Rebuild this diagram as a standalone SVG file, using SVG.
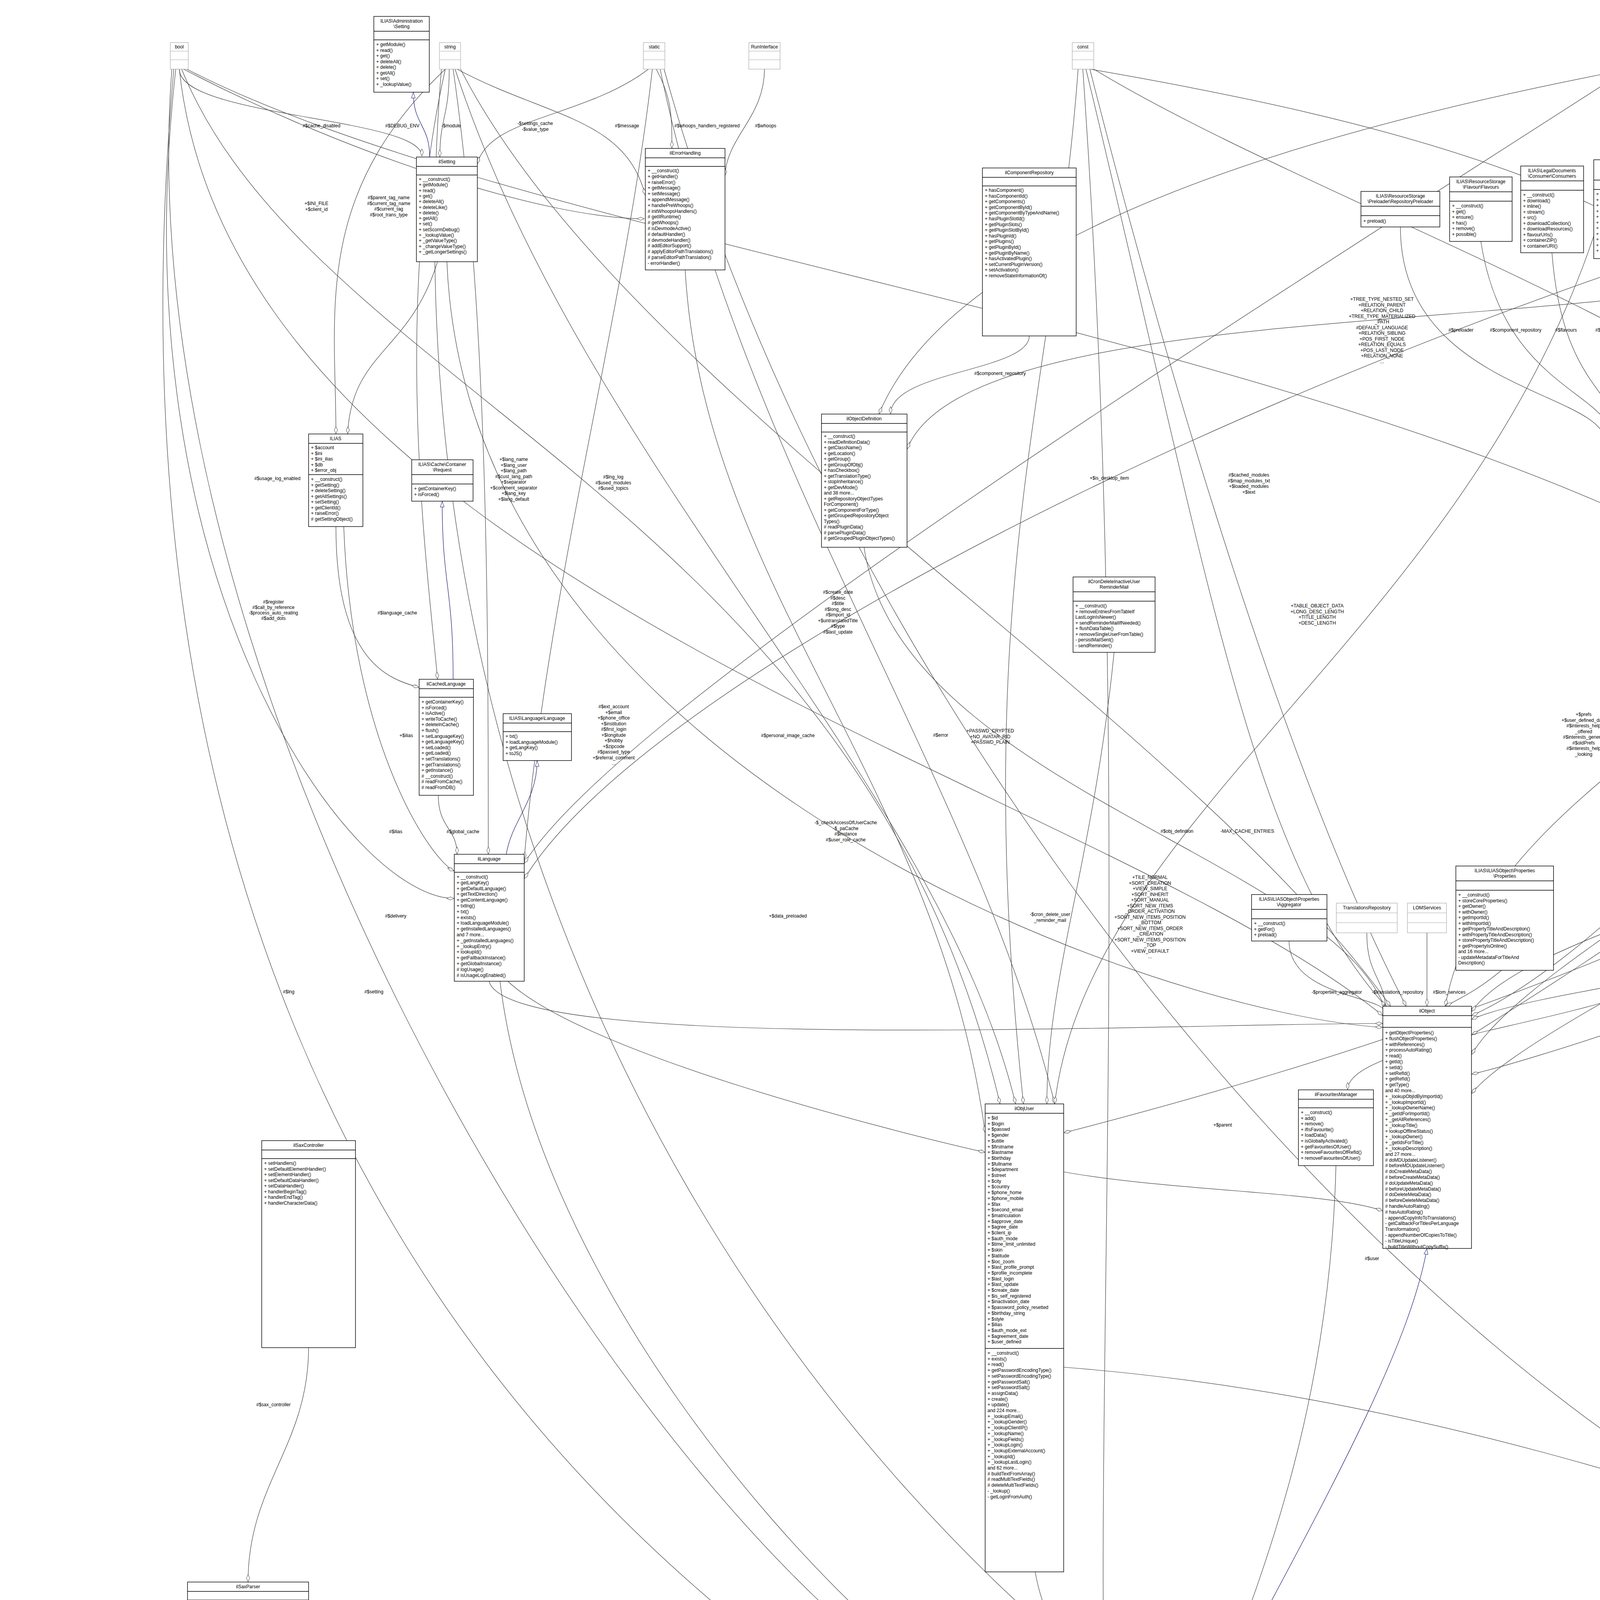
<svg xmlns="http://www.w3.org/2000/svg" width="7512" height="5460" viewBox="0 0 7512 5460">
<style>
.b{fill:#fff;stroke:#000;stroke-width:1.4}
.g{fill:#fff;stroke:#aaa;stroke-width:1.2}
.f{fill:#bfbfbf;stroke:#000;stroke-width:1.4}
.s{stroke:#000;stroke-width:1.4;fill:none}
.sg{stroke:#aaa;stroke-width:1.2;fill:none}
text{font-family:"Liberation Sans",Arial,sans-serif;font-size:12px;fill:#000}
.c{text-anchor:middle}
.l{text-anchor:middle}
.e{fill:none;stroke:#404040;stroke-width:1.2;marker-end:url(#d)}
.i{fill:none;stroke:#191970;stroke-width:1.2;marker-end:url(#tri)}
</style>
<defs>
<marker id="d" viewBox="0 0 20 10" refX="20" refY="5" markerWidth="20" markerHeight="10" markerUnits="userSpaceOnUse" orient="auto"><path d="M1 5L10 1L19 5L10 9Z" fill="#fff" stroke="#404040"/></marker>
<marker id="tri" viewBox="0 0 16 12" refX="16" refY="6" markerWidth="16" markerHeight="12" markerUnits="userSpaceOnUse" orient="auto"><path d="M1 1L15 6L1 11Z" fill="#fff" stroke="#191970"/></marker>
</defs>
<rect width="7512" height="5460" fill="#fff"/>

<g id="edges">
<path class="e" d="M459 177C459 300 1080 300 1080 400"/>
<path class="e" d="M470 177C900 400 1400 560 1650 560"/>
<path class="e" d="M450 177C300 1500 900 2300 1163 2300"/>
<path class="e" d="M459 177C600 1500 2800 2000 3540 2600"/>
<path class="e" d="M465 177C800 1000 2200 1300 2560 2826"/>
<path class="e" d="M440 177C300 2000 2000 4500 2811 4500"/>
<path class="e" d="M478 177C1500 700 4000 900 4928 1800"/>
<path class="e" d="M445 177C100 4000 3000 5330 5677 5322"/>
<path class="e" d="M1150 177C1150 300 1126 300 1126 402"/>
<path class="e" d="M1170 177C1400 300 1600 300 1652 500"/>
<path class="e" d="M1160 177C1250 800 1250 1600 1250 2187"/>
<path class="e" d="M1179 177C1600 1000 3000 1800 3560 2576"/>
<path class="e" d="M1165 177C1500 1200 2400 2000 2600 2826"/>
<path class="e" d="M1140 177C1000 800 1100 1500 1120 1739"/>
<path class="e" d="M1130 177C900 3000 3000 5315 5677 5312"/>
<path class="e" d="M1140 177C800 500 860 800 860 1111"/>
<path class="e" d="M1680 177C1720 250 1720 300 1720 380"/>
<path class="e" d="M1660 177C1500 300 1250 300 1222 420"/>
<path class="e" d="M1670 177C1600 800 1400 1500 1342 2200"/>
<path class="e" d="M1690 177C1900 1200 2500 2000 2700 2826"/>
<path class="e" d="M1700 177C2200 2000 4000 4200 5645 4280"/>
<path class="e" d="M1957 177C1957 300 1860 350 1856 450"/>
<path class="e" d="M2760 177C2700 1000 2480 1500 2620 2826"/>
<path class="e" d="M2790 177C3000 1000 3300 2000 3600 2576"/>
<path class="e" d="M2772 177C2900 2000 2800 3500 2830 4468"/>
<path class="e" d="M2800 177C3500 600 4900 1000 5100 1696"/>
<path class="e" d="M2780 177C3100 1500 3200 2200 3560 2590"/>
<path class="e" d="M2790 177C3500 300 4400 500 4650 1010"/>
<path class="e" d="M4180 177C4000 1500 2800 2000 2700 2826"/>
<path class="e" d="M4170 177C3000 400 2400 700 2250 1060"/>
<path class="e" d="M4200 177C4700 800 5000 1200 5000 1696"/>
<path class="e" d="M4210 177C5200 1500 5500 3500 5700 4165"/>
<path class="e" d="M4167 177C3200 800 1600 1800 1342 2210"/>
<path class="e" d="M4220 177C5000 250 5900 250 6080 380"/>
<path class="e" d="M4210 177C4300 300 4640 350 4640 469"/>
<path class="e" d="M6150 177C5900 700 5300 1200 5152 1750"/>
<path class="e" d="M6160 177C6000 1500 4000 2300 3767 2700"/>
<path class="e" d="M6175 177C6200 2000 3500 2700 2723 2900"/>
<path class="i" d="M1100 402C1100 320 1058 320 1058 236"/>
<path class="e" d="M1754 691C1800 1500 2400 2000 2522 2900"/>
<path class="e" d="M2635 860C2635 950 2280 950 2280 1060"/>
<path class="e" d="M2212 1401C2300 2000 3400 2200 3545 2580"/>
<path class="e" d="M2852 1670C2800 2200 2680 2500 2680 2826"/>
<path class="i" d="M1160 1739C1160 1500 1132 1500 1132 1283"/>
<path class="e" d="M1122 2036C1122 2120 1170 2120 1170 2187"/>
<path class="e" d="M880 1348C900 1900 1100 2200 1163 2230"/>
<path class="e" d="M860 1348C860 1700 1000 1739 1073 1760"/>
<path class="i" d="M1296 2187C1310 2100 1375 2050 1375 1947"/>
<path class="e" d="M1252 2512C1300 2700 3000 2620 3540 2620"/>
<path class="e" d="M1300 2512C1500 2700 2300 2900 2522 2950"/>
<path class="e" d="M1280 2512C1400 3500 2500 4520 2811 4520"/>
<path class="e" d="M1144 670C1200 2000 3000 2600 3540 2630"/>
<path class="e" d="M1120 670C1050 900 900 900 890 1111"/>
<path class="e" d="M7150 525C6500 1500 4000 2500 3767 2800"/>
<path class="e" d="M7100 300C6800 300 6300 300 6250 380"/>
<path class="e" d="M7300 525C7300 620 7290 620 7290 716"/>
<path class="e" d="M7200 525C7000 1500 4600 1800 4330 2261"/>
<path class="e" d="M7180 525C6500 1000 5500 1400 5152 1800"/>
<path class="e" d="M7160 400C6000 800 5000 900 4822 1050"/>
<path class="e" d="M7380 525C7400 3000 6500 5340 5839 5335"/>
<path class="e" d="M7250 525C7000 1500 6000 1700 5806 1800"/>
<path class="e" d="M7095 100C5000 100 1800 1500 1342 2250"/>
<path class="e" d="M5760 647C5700 1000 5200 1500 5130 1696"/>
<path class="e" d="M5770 647C5500 1600 4000 2500 3767 2650"/>
<path class="e" d="M5790 647C5790 1200 5760 1500 5760 1761"/>
<path class="e" d="M5830 647C6500 2500 6300 5300 5839 5325"/>
<path class="e" d="M5740 640C5400 900 5000 900 4950 1178"/>
<path class="e" d="M5272 604C5272 900 4930 900 4930 1178"/>
<path class="e" d="M3585 581C3585 1000 4110 1000 4110 1133"/>
<path class="e" d="M3791 618C3850 1000 4130 1000 4130 1133"/>
<path class="e" d="M3973 647C4000 1000 4150 1000 4150 1133"/>
<path class="e" d="M4171 662C4171 900 4175 1000 4175 1133"/>
<path class="e" d="M4582 604C4500 900 4210 1000 4210 1133"/>
<path class="e" d="M4773 581C4600 900 2500 700 2322 1150"/>
<path class="e" d="M5077 589C5000 900 4240 1000 4240 1133"/>
<path class="e" d="M5601 624C5400 950 4260 1000 4262 1150"/>
<path class="i" d="M5077 483C5100 400 5360 400 5360 326"/>
<path class="i" d="M5560 446C5540 380 5400 380 5400 326"/>
<path class="e" d="M6341 626C6300 900 6265 900 6265 1118"/>
<path class="e" d="M6552 574C6500 900 6310 900 6310 1118"/>
<path class="e" d="M6642 574C6600 900 6335 950 6335 1118"/>
<path class="e" d="M6789 603C6700 900 6345 950 6345 1118"/>
<path class="e" d="M6936 574C6900 900 6355 950 6355 1118"/>
<path class="e" d="M6318 1341C6200 2000 4000 2700 3767 2750"/>
<path class="e" d="M6164 692C6150 2000 6100 3500 5821 4200"/>
<path class="e" d="M4800 1451C5000 1700 5500 1700 5616 1780"/>
<path class="e" d="M4700 1451C4600 2000 4000 2500 3767 2600"/>
<path class="e" d="M4720 1451C4760 2500 4900 3300 4920 3531"/>
<path class="e" d="M4740 1451C4900 2500 5150 3800 5645 4230"/>
<path class="e" d="M5650 2013C5400 2400 4000 2500 3767 2610"/>
<path class="e" d="M4907 1283C4907 1500 4990 1500 4990 1696"/>
<path class="e" d="M4890 1283C4700 1700 3800 2000 3700 2576"/>
<path class="e" d="M5080 1341C5080 1500 5055 1500 5055 1696"/>
<path class="e" d="M4940 2000C4500 2300 3900 2400 3767 2590"/>
<path class="e" d="M4960 2080C4900 2150 4330 2150 4330 2261"/>
<path class="e" d="M5100 2080C5300 3000 5700 3500 5712 4165"/>
<path class="e" d="M5000 2080C5000 2800 4950 3300 4950 3531"/>
<path class="i" d="M5590 2848C5450 2700 5200 2600 5168 2475"/>
<path class="i" d="M5620 2848C5550 2700 5430 2600 5429 2432"/>
<path class="i" d="M5650 2848C5660 2700 5676 2600 5676 2460"/>
<path class="e" d="M5600 2923C5300 3100 5000 3300 4960 3531"/>
<path class="e" d="M4330 2440C4300 2600 3450 2650 3450 2790"/>
<path class="e" d="M7262 983C7000 2500 5100 3000 4985 3531"/>
<path class="e" d="M5667 3739C5680 3950 5720 3950 5720 4165"/>
<path class="e" d="M5821 4402C5900 4800 5900 5000 5860 5106"/>
<path class="e" d="M5760 4402C5900 4900 5900 5150 5839 5281"/>
<path class="e" d="M5758 5224L5758 5281"/>
<path class="i" d="M5646 5152C4500 5000 3400 4800 3026 4779"/>
<path class="i" d="M3026 4530C3300 4000 3600 3500 3653 3196"/>
<path class="i" d="M5677 5340C4000 5330 1500 5300 635 4220"/>
<path class="e" d="M3420 2984C3400 3800 3100 4300 3026 4600"/>
<path class="e" d="M4900 3753C4600 4200 3300 4400 3026 4630"/>
<path class="e" d="M2723 3000C3000 3050 3400 3050 3540 3100"/>
<path class="e" d="M2650 4024C2680 4200 2800 4300 2811 4560"/>
<path class="e" d="M2723 3500C4000 3600 5000 4100 5645 4260"/>
<path class="e" d="M3300 2409C3300 2550 3540 2550 3545 2590"/>
<path class="e" d="M3499 2388C3499 2500 3545 2500 3548 2590"/>
<path class="e" d="M3653 2388L3653 2576"/>
<path class="e" d="M3844 2484C3800 2520 3770 2540 3700 2576"/>
<path class="e" d="M790 3450C790 3700 635 3800 635 4050"/>
</g>

<g id="labels">
<text class="l" x="823" y="326">#$cache_disabled</text>
<text class="l" x="710" y="1229">#$usage_log_enabled</text>
<text class="l" x="700" y="1545"><tspan x="700">#$register</tspan><tspan x="700" dy="14">#$call_by_reference</tspan><tspan x="700" dy="14">-$process_auto_reating</tspan><tspan x="700" dy="14">#$add_dots</tspan></text>
<text class="l" x="2840" y="1228">+$is_desktop_item</text>
<text class="l" x="1155" y="326">-$module</text>
<text class="l" x="1030" y="326">#$DEBUG_ENV</text>
<text class="l" x="1605" y="326">#$message</text>
<text class="l" x="1315" y="1180"><tspan x="1315">+$lang_name</tspan><tspan x="1315" dy="14.5">+$lang_user</tspan><tspan x="1315" dy="14.5">+$lang_path</tspan><tspan x="1315" dy="14.5">#$cust_lang_path</tspan><tspan x="1315" dy="14.5">+$separator</tspan><tspan x="1315" dy="14.5">+$comment_separator</tspan><tspan x="1315" dy="14.5">+$lang_key</tspan><tspan x="1315" dy="14.5">+$lang_default</tspan></text>
<text class="l" x="2145" y="1520"><tspan x="2145">#$create_date</tspan><tspan x="2145" dy="14.5">#$desc</tspan><tspan x="2145" dy="14.5">#$title</tspan><tspan x="2145" dy="14.5">#$long_desc</tspan><tspan x="2145" dy="14.5">#$import_id</tspan><tspan x="2145" dy="14.5">+$untranslatedTitle</tspan><tspan x="2145" dy="14.5">#$type</tspan><tspan x="2145" dy="14.5">#$last_update</tspan></text>
<text class="l" x="1571" y="1813"><tspan x="1571">#$ext_account</tspan><tspan x="1571" dy="14.5">+$email</tspan><tspan x="1571" dy="14.5">+$phone_office</tspan><tspan x="1571" dy="14.5">+$institution</tspan><tspan x="1571" dy="14.5">#$first_login</tspan><tspan x="1571" dy="14.5">+$longitude</tspan><tspan x="1571" dy="14.5">+$hobby</tspan><tspan x="1571" dy="14.5">+$zipcode</tspan><tspan x="1571" dy="14.5">#$passwd_type</tspan><tspan x="1571" dy="14.5">+$referral_comment</tspan><tspan x="1571" dy="14.5">...</tspan></text>
<text class="l" x="995" y="510"><tspan x="995">#$parent_tag_name</tspan><tspan x="995" dy="14.5">#$current_tag_name</tspan><tspan x="995" dy="14.5">#$current_tag</tspan><tspan x="995" dy="14.5">#$root_trans_type</tspan></text>
<text class="l" x="810" y="525"><tspan x="810">+$INI_FILE</tspan><tspan x="810" dy="14.5">+$client_id</tspan></text>
<text class="l" x="1810" y="326">#$whoops_handlers_registered</text>
<text class="l" x="1370" y="320"><tspan x="1370">-$settings_cache</tspan><tspan x="1370" dy="14.5">-$value_type</tspan></text>
<text class="l" x="1570" y="1225"><tspan x="1570">#$lng_log</tspan><tspan x="1570" dy="14.5">#$used_modules</tspan><tspan x="1570" dy="14.5">#$used_topics</tspan></text>
<text class="l" x="2017" y="1887">#$personal_image_cache</text>
<text class="l" x="2165" y="2110"><tspan x="2165">-$_checkAccessOfUserCache</tspan><tspan x="2165" dy="14.5">-$_paCache</tspan><tspan x="2165" dy="14.5">#$instance</tspan><tspan x="2165" dy="14.5">#$user_role_cache</tspan></text>
<text class="l" x="1960" y="326">#$whoops</text>
<text class="l" x="2535" y="1875"><tspan x="2535">+PASSWD_CRYPTED</tspan><tspan x="2535" dy="14.5">+NO_AVATAR_RID</tspan><tspan x="2535" dy="14.5">+PASSWD_PLAIN</tspan></text>
<text class="l" x="3372" y="1555"><tspan x="3372">+TABLE_OBJECT_DATA</tspan><tspan x="3372" dy="14.5">+LONG_DESC_LENGTH</tspan><tspan x="3372" dy="14.5">+TITLE_LENGTH</tspan><tspan x="3372" dy="14.5">+DESC_LENGTH</tspan></text>
<text class="l" x="2944" y="2250"><tspan x="2944">+TILE_NORMAL</tspan><tspan x="2944" dy="14.5">+SORT_CREATION</tspan><tspan x="2944" dy="14.5">+VIEW_SIMPLE</tspan><tspan x="2944" dy="14.5">+SORT_INHERIT</tspan><tspan x="2944" dy="14.5">+SORT_MANUAL</tspan><tspan x="2944" dy="14.5">+SORT_NEW_ITEMS</tspan><tspan x="2944" dy="14.5">_ORDER_ACTIVATION</tspan><tspan x="2944" dy="14.5">+SORT_NEW_ITEMS_POSITION</tspan><tspan x="2944" dy="14.5">_BOTTOM</tspan><tspan x="2944" dy="14.5">+SORT_NEW_ITEMS_ORDER</tspan><tspan x="2944" dy="14.5">_CREATION</tspan><tspan x="2944" dy="14.5">+SORT_NEW_ITEMS_POSITION</tspan><tspan x="2944" dy="14.5">_TOP</tspan><tspan x="2944" dy="14.5">+VIEW_DEFAULT</tspan><tspan x="2944" dy="14.5">...</tspan></text>
<text class="l" x="3538" y="770"><tspan x="3538">+TREE_TYPE_NESTED_SET</tspan><tspan x="3538" dy="14.5">+RELATION_PARENT</tspan><tspan x="3538" dy="14.5">+RELATION_CHILD</tspan><tspan x="3538" dy="14.5">+TREE_TYPE_MATERIALIZED</tspan><tspan x="3538" dy="14.5">_PATH</tspan><tspan x="3538" dy="14.5">#DEFAULT_LANGUAGE</tspan><tspan x="3538" dy="14.5">+RELATION_SIBLING</tspan><tspan x="3538" dy="14.5">+POS_FIRST_NODE</tspan><tspan x="3538" dy="14.5">+RELATION_EQUALS</tspan><tspan x="3538" dy="14.5">+POS_LAST_NODE</tspan><tspan x="3538" dy="14.5">+RELATION_NONE</tspan><tspan x="3538" dy="14.5">...</tspan></text>
<text class="l" x="3193" y="2132">-MAX_CACHE_ENTRIES</text>
<text class="l" x="4390" y="500"><tspan x="4390">+FILTER_NOT_INTERNAL</tspan><tspan x="4390" dy="14.5">+FILTER_ALL_GLOBAL</tspan><tspan x="4390" dy="14.5">+FILTER_ALL</tspan><tspan x="4390" dy="14.5">+FILTER_INTERNAL</tspan><tspan x="4390" dy="14.5">+FILTER_TEMPLATES</tspan><tspan x="4390" dy="14.5">+FILTER_ALL_LOCAL</tspan></text>
<text class="l" x="4054" y="1833"><tspan x="4054">+$prefs</tspan><tspan x="4054" dy="14.5">+$user_defined_data</tspan><tspan x="4054" dy="14.5">#$interests_help</tspan><tspan x="4054" dy="14.5">_offered</tspan><tspan x="4054" dy="14.5">#$interests_general</tspan><tspan x="4054" dy="14.5">#$oldPrefs</tspan><tspan x="4054" dy="14.5">#$interests_help</tspan><tspan x="4054" dy="14.5">_looking</tspan></text>
<text class="l" x="5287" y="798"><tspan x="5287">#$oo_preloaded</tspan><tspan x="5287" dy="14.5">#$translation_cache</tspan><tspan x="5287" dy="14.5">#$is_saved_cache</tspan><tspan x="5287" dy="14.5">#$in_tree_cache</tspan><tspan x="5287" dy="14.5">-$path_id_cache</tspan><tspan x="5287" dy="14.5">#$parent_cache</tspan><tspan x="5287" dy="14.5">#$parent_type_cache</tspan><tspan x="5287" dy="14.5">#$depth_cache</tspan></text>
<text class="l" x="3197" y="1220"><tspan x="3197">#$cached_modules</tspan><tspan x="3197" dy="14.5">#$map_modules_txt</tspan><tspan x="3197" dy="14.5">+$loaded_modules</tspan><tspan x="3197" dy="14.5">+$text</tspan></text>
<text class="l" x="4939" y="536">#$listener</text>
<text class="l" x="5879" y="835"><tspan x="5879">#$tree_id</tspan><tspan x="5879" dy="14.5">-$gap</tspan><tspan x="5879" dy="14.5">#$root_id</tspan></text>
<text class="l" x="5938" y="1548"><tspan x="5938">#$ref_id</tspan><tspan x="5938" dy="14.5">#$max_desc</tspan><tspan x="5938" dy="14.5">#$max_title</tspan><tspan x="5938" dy="14.5">#$owner</tspan></text>
<text class="l" x="6040" y="1850"><tspan x="6040">#$time_limit_owner</tspan><tspan x="6040" dy="14.5">+$active</tspan><tspan x="6040" dy="14.5">#$time_limit_from</tspan><tspan x="6040" dy="14.5">#$time_limit_until</tspan><tspan x="6040" dy="14.5">+$login_attempts</tspan><tspan x="6040" dy="14.5">+$last_password_change_ts</tspan></text>
<text class="l" x="2408" y="1886">#$error</text>
<text class="l" x="2560" y="960">#$component_repository</text>
<text class="l" x="3013" y="2132">#$obj_definition</text>
<text class="l" x="2688" y="2345"><tspan x="2688">-$cron_delete_user</tspan><tspan x="2688" dy="14.5">_reminder_mail</tspan></text>
<text class="l" x="1185" y="2133">#$global_cache</text>
<text class="l" x="1013" y="2133">#$ilias</text>
<text class="l" x="1040" y="1887">+$ilias</text>
<text class="l" x="1013" y="2349">#$delivery</text>
<text class="l" x="739" y="2543">#$lng</text>
<text class="l" x="957" y="2543">#$setting</text>
<text class="l" x="1017" y="1573">#$language_cache</text>
<text class="l" x="2017" y="2349">+$data_preloaded</text>
<text class="l" x="6624" y="1229">#$db</text>
<text class="l" x="6484" y="534">#$db</text>
<text class="l" x="6960" y="848">#$db</text>
<text class="l" x="7031" y="848">#$db</text>
<text class="l" x="5480" y="1228">#$logger</text>
<text class="l" x="5618" y="1571">#$log</text>
<text class="l" x="5785" y="1228">#$logger</text>
<text class="l" x="5570" y="1880"><tspan x="5570">#$obj_log</tspan><tspan x="5570" dy="14.5">#$log</tspan></text>
<text class="l" x="4980" y="849">#$log</text>
<text class="l" x="5130" y="849">-$event_handling_data</text>
<text class="l" x="3740" y="849">#$preloader</text>
<text class="l" x="3880" y="849">#$component_repository</text>
<text class="l" x="4009" y="849">#$flavours</text>
<text class="l" x="4120" y="849">#$consumers</text>
<text class="l" x="4222" y="849">#$collections</text>
<text class="l" x="4441" y="849">#$events</text>
<text class="l" x="4571" y="849">#$component_factory</text>
<text class="l" x="4702" y="849">#$manager</text>
<text class="l" x="4827" y="849">#$container_manager</text>
<text class="l" x="5440" y="849">#$logger</text>
<text class="l" x="6248" y="848">-$colorfactory</text>
<text class="l" x="6379" y="848">-$dimensionfactory</text>
<text class="l" x="6510" y="848">-$text_factory</text>
<text class="l" x="6645" y="848">-$description_factory</text>
<text class="l" x="6813" y="835"><tspan x="6813">-$html_metadata_factory</tspan><tspan x="6813" dy="14.5">-$open_graph_metadata</tspan><tspan x="6813" dy="14.5">_factory</tspan></text>
<text class="l" x="6115" y="2348">#$objectDataCache</text>
<text class="l" x="5455" y="1571">#$rbacreview</text>
<text class="l" x="4845" y="2348">#$rbacreview</text>
<text class="l" x="4787" y="2542">#$review</text>
<text class="l" x="5195" y="3639">#$rbacreview</text>
<text class="l" x="4735" y="2348">#$rbac_admin</text>
<text class="l" x="5008" y="1571">#$eventHandler</text>
<text class="l" x="4520" y="2133">#$app_event_handler</text>
<text class="l" x="5103" y="1571">-$tree_impl</text>
<text class="l" x="4555" y="2348">#$tree</text>
<text class="l" x="4404" y="2133">#$tree</text>
<text class="l" x="5826" y="2883">#$tree</text>
<text class="l" x="5838" y="2133">#$mem_view</text>
<text class="l" x="5128" y="3226">#$access</text>
<text class="l" x="5737" y="4092">#$http</text>
<text class="l" x="4745" y="4432">#$rbacsystem</text>
<text class="l" x="5922" y="5080">#$rbacsystem</text>
<text class="l" x="5800" y="5256">#$category</text>
<text class="l" x="3130" y="2884">+$parent</text>
<text class="l" x="3512" y="3226">#$user</text>
<text class="l" x="2734" y="4283">#$user</text>
<text class="l" x="3422" y="2544">-$properties_aggregator</text>
<text class="l" x="3578" y="2544">-$translations_repository</text>
<text class="l" x="3710" y="2544">#$lom_services</text>
<text class="l" x="3470" y="4150">#$fav_manager</text>
<text class="l" x="3900" y="4250"><tspan x="3900">#$recommended_content</tspan><tspan x="3900" dy="14.5">_manager</tspan></text>
<text class="l" x="700" y="3600">#$sax_controller</text>
</g>

<g id="bool"><rect class="g" x="436" y="109" width="46" height="68"/><text class="c" x="459" y="124">bool</text><path class="sg" d="M436 131h46M436 153h46"/></g>
<g id="string"><rect class="g" x="1125" y="109" width="54" height="68"/><text class="c" x="1152" y="124">string</text><path class="sg" d="M1125 131h54M1125 153h54"/></g>
<g id="static"><rect class="g" x="1647" y="109" width="55" height="68"/><text class="c" x="1675" y="124">static</text><path class="sg" d="M1647 131h55M1647 153h55"/></g>
<g id="RunInterface"><rect class="g" x="1917" y="109" width="80" height="68"/><text class="c" x="1957" y="124">RunInterface</text><path class="sg" d="M1917 131h80M1917 153h80"/></g>
<g id="const"><rect class="g" x="2745" y="109" width="55" height="68"/><text class="c" x="2772" y="124">const</text><path class="sg" d="M2745 131h55M2745 153h55"/></g>
<g id="array"><rect class="g" x="4167" y="109" width="55" height="68"/><text class="c" x="4194" y="124">array</text><path class="sg" d="M4167 131h55M4167 153h55"/></g>
<g id="int"><rect class="g" x="6146" y="109" width="45" height="68"/><text class="c" x="6168" y="124">int</text><path class="sg" d="M6146 131h45M6146 153h45"/></g>
<g id="Dimension"><rect class="g" x="6510" y="497" width="84" height="77"/><text class="c" x="6552" y="513">Dimension</text><path class="sg" d="M6510 522h84M6510 548h84"/></g>
<g id="Text"><rect class="g" x="6618" y="497" width="48" height="77"/><text class="c" x="6642" y="513">Text</text><path class="sg" d="M6618 522h48M6618 548h48"/></g>
<g id="Meta"><rect class="g" x="6911" y="497" width="50" height="77"/><text class="c" x="6936" y="513">Meta</text><path class="sg" d="M6911 522h50M6911 548h50"/></g>
<g id="TranslationsRepository"><rect class="g" x="3421" y="2312" width="156" height="76"/><text class="c" x="3499" y="2328">TranslationsRepository</text><path class="sg" d="M3421 2337h156M3421 2362h156"/></g>
<g id="LOMServices"><rect class="g" x="3603" y="2312" width="100" height="76"/><text class="c" x="3653" y="2328">LOMServices</text><path class="sg" d="M3603 2337h100M3603 2362h100"/></g>
<g id="ilAccessHandler"><rect class="b" x="5584" y="2848" width="117" height="75"/><text class="c" x="5642" y="2864">ilAccessHandler</text><path class="s" d="M5584 2872h117M5584 2896h117"/></g>

<g id="AdminSetting"><rect class="b" x="957" y="42" width="142" height="194"/><text class="c" x="1028" y="58">ILIAS\Administration</text><text class="c" x="1028" y="72">\Setting</text><path class="s" d="M957 80h142M957 102h142"/><text x="963" y="118"><tspan x="963">+ getModule()</tspan><tspan x="963" dy="14.5">+ read()</tspan><tspan x="963" dy="14.5">+ get()</tspan><tspan x="963" dy="14.5">+ deleteAll()</tspan><tspan x="963" dy="14.5">+ delete()</tspan><tspan x="963" dy="14.5">+ getAll()</tspan><tspan x="963" dy="14.5">+ set()</tspan><tspan x="963" dy="14.5">+ _lookupValue()</tspan></text></g>

<g id="ilSetting"><rect class="b" x="1066" y="402" width="156" height="268"/><text class="c" x="1144" y="418">ilSetting</text><path class="s" d="M1066 426h156M1066 448h156"/><text x="1072" y="463"><tspan x="1072">+ __construct()</tspan><tspan x="1072" dy="14.3">+ getModule()</tspan><tspan x="1072" dy="14.3">+ read()</tspan><tspan x="1072" dy="14.3">+ get()</tspan><tspan x="1072" dy="14.3">+ deleteAll()</tspan><tspan x="1072" dy="14.3">+ deleteLike()</tspan><tspan x="1072" dy="14.3">+ delete()</tspan><tspan x="1072" dy="14.3">+ getAll()</tspan><tspan x="1072" dy="14.3">+ set()</tspan><tspan x="1072" dy="14.3">+ setScormDebug()</tspan><tspan x="1072" dy="14.3">+ _lookupValue()</tspan><tspan x="1072" dy="14.3">+ _getValueType()</tspan><tspan x="1072" dy="14.3">+ _changeValueType()</tspan><tspan x="1072" dy="14.3">+ _getLongerSettings()</tspan></text></g>

<g id="ilErrorHandling"><rect class="b" x="1652" y="380" width="204" height="311"/><text class="c" x="1754" y="396">ilErrorHandling</text><path class="s" d="M1652 404h204M1652 426h204"/><text x="1658" y="441"><tspan x="1658">+ __construct()</tspan><tspan x="1658" dy="14.8">+ getHandler()</tspan><tspan x="1658" dy="14.8">+ raiseError()</tspan><tspan x="1658" dy="14.8">+ getMessage()</tspan><tspan x="1658" dy="14.8">+ setMessage()</tspan><tspan x="1658" dy="14.8">+ appendMessage()</tspan><tspan x="1658" dy="14.8">+ handlePreWhoops()</tspan><tspan x="1658" dy="14.8"># initWhoopsHandlers()</tspan><tspan x="1658" dy="14.8"># getIlRuntime()</tspan><tspan x="1658" dy="14.8"># getWhoops()</tspan><tspan x="1658" dy="14.8"># isDevmodeActive()</tspan><tspan x="1658" dy="14.8"># defaultHandler()</tspan><tspan x="1658" dy="14.8"># devmodeHandler()</tspan><tspan x="1658" dy="14.8"># addEditorSupport()</tspan><tspan x="1658" dy="14.8"># applyEditorPathTranslations()</tspan><tspan x="1658" dy="14.8"># parseEditorPathTranslation()</tspan><tspan x="1658" dy="14.8">- errorHandler()</tspan></text></g>

<g id="ilComponentRepository"><rect class="b" x="2515" y="430" width="240" height="430"/><text class="c" x="2635" y="446">ilComponentRepository</text><path class="s" d="M2515 454h240M2515 476h240"/><text x="2521" y="491"><tspan x="2521">+ hasComponent()</tspan><tspan x="2521" dy="14.6">+ hasComponentId()</tspan><tspan x="2521" dy="14.6">+ getComponents()</tspan><tspan x="2521" dy="14.6">+ getComponentById()</tspan><tspan x="2521" dy="14.6">+ getComponentByTypeAndName()</tspan><tspan x="2521" dy="14.6">+ hasPluginSlotId()</tspan><tspan x="2521" dy="14.6">+ getPluginSlots()</tspan><tspan x="2521" dy="14.6">+ getPluginSlotById()</tspan><tspan x="2521" dy="14.6">+ hasPluginId()</tspan><tspan x="2521" dy="14.6">+ getPlugins()</tspan><tspan x="2521" dy="14.6">+ getPluginById()</tspan><tspan x="2521" dy="14.6">+ getPluginByName()</tspan><tspan x="2521" dy="14.6">+ hasActivatedPlugin()</tspan><tspan x="2521" dy="14.6">+ setCurrentPluginVersion()</tspan><tspan x="2521" dy="14.6">+ setActivation()</tspan><tspan x="2521" dy="14.6">+ removeStateInformationOf()</tspan></text></g>

<g id="ilObjectDefinition"><rect class="b" x="2103" y="1060" width="219" height="341"/><text class="c" x="2212" y="1076">ilObjectDefinition</text><path class="s" d="M2103 1084h219M2103 1106h219"/><text x="2109" y="1121"><tspan x="2109">+ __construct()</tspan><tspan x="2109" dy="14.5">+ readDefinitionData()</tspan><tspan x="2109" dy="14.5">+ getClassName()</tspan><tspan x="2109" dy="14.5">+ getLocation()</tspan><tspan x="2109" dy="14.5">+ getGroup()</tspan><tspan x="2109" dy="14.5">+ getGroupOfObj()</tspan><tspan x="2109" dy="14.5">+ hasCheckbox()</tspan><tspan x="2109" dy="14.5">+ getTranslationType()</tspan><tspan x="2109" dy="14.5">+ stopInheritance()</tspan><tspan x="2109" dy="14.5">+ getDevMode()</tspan><tspan x="2109" dy="14.5">and 38 more...</tspan><tspan x="2109" dy="14.5">+ getRepositoryObjectTypes</tspan><tspan x="2109" dy="14.5">ForComponent()</tspan><tspan x="2109" dy="14.5">+ getComponentForType()</tspan><tspan x="2109" dy="14.5">+ getGroupedRepositoryObject</tspan><tspan x="2109" dy="14.5">Types()</tspan><tspan x="2109" dy="14.5"># readPluginData()</tspan><tspan x="2109" dy="14.5"># parsePluginData()</tspan><tspan x="2109" dy="14.5"># getGroupedPluginObjectTypes()</tspan></text></g>

<g id="RepositoryPreloader"><rect class="b" x="3484" y="490" width="202" height="91"/><text class="c" x="3585" y="506">ILIAS\ResourceStorage</text><text class="c" x="3585" y="520">\Preloader\RepositoryPreloader</text><path class="s" d="M3484 528h202M3484 552h202"/><text x="3490" y="570">+ preload()</text></g>

<g id="Flavours"><rect class="b" x="3711" y="453" width="160" height="165"/><text class="c" x="3791" y="469">ILIAS\ResourceStorage</text><text class="c" x="3791" y="483">\Flavour\Flavours</text><path class="s" d="M3711 491h160M3711 515h160"/><text x="3717" y="531"><tspan x="3717">+ __construct()</tspan><tspan x="3717" dy="14.5">+ get()</tspan><tspan x="3717" dy="14.5">+ ensure()</tspan><tspan x="3717" dy="14.5">+ has()</tspan><tspan x="3717" dy="14.5">+ remove()</tspan><tspan x="3717" dy="14.5">+ possible()</tspan></text></g>

<g id="Consumers"><rect class="b" x="3893" y="425" width="161" height="222"/><text class="c" x="3973" y="441">ILIAS\LegalDocuments</text><text class="c" x="3973" y="455">\Consumer\Consumers</text><path class="s" d="M3893 463h161M3893 487h161"/><text x="3899" y="503"><tspan x="3899">+ __construct()</tspan><tspan x="3899" dy="14.5">+ download()</tspan><tspan x="3899" dy="14.5">+ inline()</tspan><tspan x="3899" dy="14.5">+ stream()</tspan><tspan x="3899" dy="14.5">+ src()</tspan><tspan x="3899" dy="14.5">+ downloadCollection()</tspan><tspan x="3899" dy="14.5">+ downloadResources()</tspan><tspan x="3899" dy="14.5">+ flavourUrls()</tspan><tspan x="3899" dy="14.5">+ containerZIP()</tspan><tspan x="3899" dy="14.5">+ containerURI()</tspan></text></g>

<g id="Collections"><rect class="b" x="4080" y="409" width="182" height="253"/><text class="c" x="4171" y="425">ILIAS\Export\ImportHandler</text><text class="c" x="4171" y="439">\Parser\NodeInfo\Collection</text><text class="c" x="4171" y="453">\Collections</text><path class="s" d="M4080 461h182M4080 485h182"/><text x="4086" y="501"><tspan x="4086">+ __construct()</tspan><tspan x="4086" dy="14.5">+ id()</tspan><tspan x="4086" dy="14.5">+ exists()</tspan><tspan x="4086" dy="14.5">+ idOrNull()</tspan><tspan x="4086" dy="14.5">+ get()</tspan><tspan x="4086" dy="14.5">+ store()</tspan><tspan x="4086" dy="14.5">+ clone()</tspan><tspan x="4086" dy="14.5">+ remove()</tspan><tspan x="4086" dy="14.5">+ rangeAsArray()</tspan><tspan x="4086" dy="14.5">+ rangeAsGenerator()</tspan><tspan x="4086" dy="14.5">+ sort()</tspan></text></g>

<g id="EventsSubject"><rect class="b" x="4503" y="469" width="159" height="135"/><text class="c" x="4582" y="485">ILIAS\ResourceStorage</text><text class="c" x="4582" y="499">\Events\Subject</text><path class="s" d="M4503 507h159M4503 531h159"/><text x="4509" y="547"><tspan x="4509">+ __construct()</tspan><tspan x="4509" dy="14.5">+ attach()</tspan><tspan x="4509" dy="14.5">+ detach()</tspan><tspan x="4509" dy="14.5"># initObserverGroup()</tspan></text></g>

<g id="ilComponentFactory"><rect class="b" x="4686" y="490" width="175" height="91"/><text class="c" x="4773" y="506">ilComponentFactory</text><path class="s" d="M4686 514h175M4686 536h175"/><text x="4692" y="552"><tspan x="4692">+ getPlugin()</tspan><tspan x="4692" dy="14.5">+ getActivePluginsInSlot()</tspan></text></g>

<g id="RSManager"><rect class="b" x="4997" y="483" width="160" height="106"/><text class="c" x="5077" y="499">ILIAS\ResourceStorage</text><text class="c" x="5077" y="513">\Manager\Manager</text><path class="s" d="M4997 521h160M4997 545h160"/><text x="5003" y="561"><tspan x="5003">+ upload()</tspan><tspan x="5003" dy="14.5">+ stream()</tspan></text></g>

<g id="ilArtifactEventHandlingData"><rect class="b" x="5181" y="469" width="182" height="135"/><text class="c" x="5272" y="485">ilArtifactEventHandlingData</text><path class="s" d="M5181 493h182M5181 515h182"/><text x="5187" y="531"><tspan x="5187">+ __construct()</tspan><tspan x="5187" dy="14.5">+ hasEvent()</tspan><tspan x="5187" dy="14.5">+ getEvent()</tspan><tspan x="5187" dy="14.5">+ getEventsByType()</tspan><tspan x="5187" dy="14.5"># readEventHandlingData()</tspan></text></g>

<g id="ContainerManager"><rect class="b" x="5490" y="446" width="222" height="178"/><text class="c" x="5601" y="462">ILIAS\ResourceStorage</text><text class="c" x="5601" y="476">\Manager\ContainerManager</text><path class="s" d="M5490 484h222M5490 508h222"/><text x="5496" y="524"><tspan x="5496">+ containerFromUpload()</tspan><tspan x="5496" dy="14.5">+ containerFromStream()</tspan><tspan x="5496" dy="14.5">+ createDirectoryInsideContainer()</tspan><tspan x="5496" dy="14.5">+ removePathInsideContainer()</tspan><tspan x="5496" dy="14.5">+ addUploadToContainer()</tspan><tspan x="5496" dy="14.5">+ addStreamToContainer()</tspan><tspan x="5496" dy="14.5"># normalizePath()</tspan></text></g>

<g id="ilLogger"><rect class="b" x="5735" y="424" width="111" height="223"/><text class="c" x="5790" y="440">ilLogger</text><path class="s" d="M5735 448h111M5735 470h111"/><text x="5741" y="486"><tspan x="5741">+ __construct()</tspan><tspan x="5741" dy="14.5">+ isHandling()</tspan><tspan x="5741" dy="14.5">+ log()</tspan><tspan x="5741" dy="14.5">+ dump()</tspan><tspan x="5741" dy="14.5">+ debug()</tspan><tspan x="5741" dy="14.5">+ info()</tspan><tspan x="5741" dy="14.5">+ notice()</tspan><tspan x="5741" dy="14.5">+ warning()</tspan><tspan x="5741" dy="14.5">+ error()</tspan><tspan x="5741" dy="14.5">+ critical()</tspan><tspan x="5741" dy="14.5">and 7 more...</tspan></text></g>

<g id="ReadOnlyManager"><rect class="b" x="5210" y="10" width="300" height="316"/><text class="c" x="5360" y="26">ILIAS\ResourceStorage</text><text class="c" x="5360" y="40">\Manager\ReadOnlyManager</text><path class="s" d="M5210 48h300M5210 72h300"/><text x="5216" y="88"><tspan x="5216">+ __construct()</tspan><tspan x="5216" dy="14.5">+ publish()</tspan><tspan x="5216" dy="14.5">+ unpublish()</tspan><tspan x="5216" dy="14.5">+ find()</tspan><tspan x="5216" dy="14.5">+ getResource()</tspan><tspan x="5216" dy="14.5">+ getCurrentRevision()</tspan><tspan x="5216" dy="14.5">+ getCurrentRevisionIncludingDraft()</tspan><tspan x="5216" dy="14.5">+ getRevision()</tspan><tspan x="5216" dy="14.5">+ setRevisionTitle()</tspan><tspan x="5216" dy="14.5">+ getStakeholders()</tspan><tspan x="5216" dy="14.5">+ clone()</tspan><tspan x="5216" dy="14.5">and 12 more...</tspan><tspan x="5216" dy="14.5"># checkZIP()</tspan><tspan x="5216" dy="14.5"># checkStakeholder()</tspan><tspan x="5216" dy="14.5"># checkRevision()</tspan></text></g>

<g id="ilObjectDataCache"><rect class="b" x="6073" y="380" width="183" height="312"/><text class="c" x="6164" y="396">ilObjectDataCache</text><path class="s" d="M6073 404h183M6073 426h183"/><text x="6079" y="442"><tspan x="6079">+ __construct()</tspan><tspan x="6079" dy="14.6">+ deleteCachedEntry()</tspan><tspan x="6079" dy="14.6">+ lookupObjId()</tspan><tspan x="6079" dy="14.6">+ lookupTitle()</tspan><tspan x="6079" dy="14.6">+ lookupType()</tspan><tspan x="6079" dy="14.6">+ lookupOwner()</tspan><tspan x="6079" dy="14.6">+ lookupDescription()</tspan><tspan x="6079" dy="14.6">+ lookupLastUpdate()</tspan><tspan x="6079" dy="14.6">+ lookupOfflineStatus()</tspan><tspan x="6079" dy="14.6">+ isTranslatedDescription()</tspan><tspan x="6079" dy="14.6">+ preloadObjectCache()</tspan><tspan x="6079" dy="14.6">+ preloadTranslations()</tspan><tspan x="6079" dy="14.6">+ preloadReferenceCache()</tspan><tspan x="6079" dy="14.6">- __isReferenceCached()</tspan><tspan x="6079" dy="14.6">- __isObjectCached()</tspan><tspan x="6079" dy="14.6">- __storeReference()</tspan><tspan x="6079" dy="14.6">- __storeObjectData()</tspan></text></g>

<g id="DataColor"><rect class="b" x="6280" y="446" width="122" height="180"/><text class="c" x="6341" y="462">ILIAS\Data\Color</text><path class="s" d="M6280 470h122M6280 494h122"/><text x="6286" y="510"><tspan x="6286">+ __construct()</tspan><tspan x="6286" dy="14.5">+ r()</tspan><tspan x="6286" dy="14.5">+ g()</tspan><tspan x="6286" dy="14.5">+ b()</tspan><tspan x="6286" dy="14.5">+ asArray()</tspan><tspan x="6286" dy="14.5">+ asHex()</tspan><tspan x="6286" dy="14.5">+ asRGBString()</tspan><tspan x="6286" dy="14.5">+ isDark()</tspan></text></g>

<g id="Description"><rect class="b" x="6690" y="468" width="198" height="135"/><text class="c" x="6789" y="484">ILIAS\Data\Description</text><text class="c" x="6789" y="498">\Description</text><path class="s" d="M6690 508h198M6690 532h198"/><text x="6696" y="548"><tspan x="6696">+ __construct()</tspan><tspan x="6696" dy="14.5">+ getDescription()</tspan><tspan x="6696" dy="14.5">+ getPrimitiveRepresentation()</tspan><tspan x="6696" dy="14.5">+ matches()</tspan></text></g>

<g id="ilDBInterface"><rect class="b" x="7090" y="5" width="310" height="520"/><text class="c" x="7245" y="21">ilDBInterface</text><path class="s" d="M7090 29h310M7090 51h310"/><text x="7096" y="67"><tspan x="7096">+ doesCollationSupportMB4Strings()</tspan><tspan x="7096" dy="14.6">+ sanitizeMB4StringIfNotSupported()</tspan><tspan x="7096" dy="14.6">+ getFieldDefinition()</tspan><tspan x="7096" dy="14.6">+ getDBVersion()</tspan><tspan x="7096" dy="14.6">+ createTable()</tspan><tspan x="7096" dy="14.6">+ addPrimaryKey()</tspan><tspan x="7096" dy="14.6">+ createSequence()</tspan><tspan x="7096" dy="14.6">+ getSequenceName()</tspan><tspan x="7096" dy="14.6">+ tableExists()</tspan><tspan x="7096" dy="14.6">+ tableColumnExists()</tspan><tspan x="7096" dy="14.6">and 104 more...</tspan><tspan x="7096" dy="14.6">+ getReservedWords()</tspan><tspan x="7096" dy="14.6">+ isReservedWord()</tspan></text></g>

<g id="ilRecommendedContentDBRepository"><rect class="b" x="7119" y="716" width="286" height="267"/><text class="c" x="7262" y="732">ilRecommendedContentDBRepository</text><path class="s" d="M7119 740h286M7119 762h286"/><text x="7125" y="778"><tspan x="7125">+ __construct()</tspan><tspan x="7125" dy="14.5">+ addRoleRecommendation()</tspan><tspan x="7125" dy="14.5">+ removeRoleRecommendation()</tspan><tspan x="7125" dy="14.5">+ addObjectRecommendation()</tspan><tspan x="7125" dy="14.5">+ removeObjectRecommendation()</tspan><tspan x="7125" dy="14.5">+ removeRecommendationsOfRefId()</tspan><tspan x="7125" dy="14.5">+ removeRecommendationsOfUser()</tspan><tspan x="7125" dy="14.5">+ removeRecommendationsOfRole()</tspan><tspan x="7125" dy="14.5">+ declineObjectRecommendation()</tspan><tspan x="7125" dy="14.5">+ getRecommendationsOfRoles()</tspan><tspan x="7125" dy="14.5">+ getOpenRecommendationsOfUser()</tspan><tspan x="7125" dy="14.5"># ifExistsObjectRecommendation()</tspan><tspan x="7125" dy="14.5"># getUserObjectRecommendations()</tspan><tspan x="7125" dy="14.5"># getDeclinedUserObjectRecommendations()</tspan></text></g>

<g id="DataFactory"><rect class="b" x="6251" y="1118" width="135" height="223"/><text class="c" x="6318" y="1134">ILIAS\Data\Factory</text><path class="s" d="M6251 1142h135M6251 1164h135"/><text x="6257" y="1180"><tspan x="6257">+ ok()</tspan><tspan x="6257" dy="14.5">+ error()</tspan><tspan x="6257" dy="14.5">+ color()</tspan><tspan x="6257" dy="14.5">+ uri()</tspan><tspan x="6257" dy="14.5">+ dataSize()</tspan><tspan x="6257" dy="14.5">+ password()</tspan><tspan x="6257" dy="14.5">+ clientId()</tspan><tspan x="6257" dy="14.5">+ refId()</tspan><tspan x="6257" dy="14.5">+ objId()</tspan><tspan x="6257" dy="14.5">+ alphanumeric()</tspan><tspan x="6257" dy="14.5">and 14 more...</tspan></text></g>

<g id="ILIAS"><rect class="b" x="790" y="1111" width="139" height="237"/><text class="c" x="859" y="1127">ILIAS</text><path class="s" d="M790 1135h139"/><text x="796" y="1150"><tspan x="796">+ $account</tspan><tspan x="796" dy="14.5">+ $ini</tspan><tspan x="796" dy="14.5">+ $ini_ilias</tspan><tspan x="796" dy="14.5">+ $db</tspan><tspan x="796" dy="14.5">+ $error_obj</tspan></text><path class="s" d="M790 1215h139"/><text x="796" y="1231"><tspan x="796">+ __construct()</tspan><tspan x="796" dy="14.5">+ getSetting()</tspan><tspan x="796" dy="14.5">+ deleteSetting()</tspan><tspan x="796" dy="14.5">+ getAllSettings()</tspan><tspan x="796" dy="14.5">+ setSetting()</tspan><tspan x="796" dy="14.5">+ getClientId()</tspan><tspan x="796" dy="14.5">+ raiseError()</tspan><tspan x="796" dy="14.5"># getSettingObject()</tspan></text></g>

<g id="CacheRequest"><rect class="b" x="1054" y="1177" width="157" height="106"/><text class="c" x="1132" y="1193">ILIAS\Cache\Container</text><text class="c" x="1132" y="1207">\Request</text><path class="s" d="M1054 1215h157M1054 1239h157"/><text x="1060" y="1255"><tspan x="1060">+ getContainerKey()</tspan><tspan x="1060" dy="14.5">+ isForced()</tspan></text></g>

<g id="ilCachedLanguage"><rect class="b" x="1073" y="1739" width="139" height="297"/><text class="c" x="1142" y="1755">ilCachedLanguage</text><path class="s" d="M1073 1763h139M1073 1785h139"/><text x="1079" y="1801"><tspan x="1079">+ getContainerKey()</tspan><tspan x="1079" dy="14.6">+ isForced()</tspan><tspan x="1079" dy="14.6">+ isActive()</tspan><tspan x="1079" dy="14.6">+ writeToCache()</tspan><tspan x="1079" dy="14.6">+ deleteInCache()</tspan><tspan x="1079" dy="14.6">+ flush()</tspan><tspan x="1079" dy="14.6">+ setLanguageKey()</tspan><tspan x="1079" dy="14.6">+ getLanguageKey()</tspan><tspan x="1079" dy="14.6">+ setLoaded()</tspan><tspan x="1079" dy="14.6">+ getLoaded()</tspan><tspan x="1079" dy="14.6">+ setTranslations()</tspan><tspan x="1079" dy="14.6">+ getTranslations()</tspan><tspan x="1079" dy="14.6">+ getInstance()</tspan><tspan x="1079" dy="14.6"># __construct()</tspan><tspan x="1079" dy="14.6"># readFromCache()</tspan><tspan x="1079" dy="14.6"># readFromDB()</tspan></text></g>

<g id="LanguageLanguage"><rect class="b" x="1288" y="1827" width="175" height="120"/><text class="c" x="1375" y="1843">ILIAS\Language\Language</text><path class="s" d="M1288 1851h175M1288 1873h175"/><text x="1294" y="1889"><tspan x="1294">+ txt()</tspan><tspan x="1294" dy="14.5">+ loadLanguageModule()</tspan><tspan x="1294" dy="14.5">+ getLangKey()</tspan><tspan x="1294" dy="14.5">+ toJS()</tspan></text></g>

<g id="ilLanguage"><rect class="b" x="1163" y="2187" width="179" height="325"/><text class="c" x="1252" y="2203">ilLanguage</text><path class="s" d="M1163 2211h179M1163 2233h179"/><text x="1169" y="2249"><tspan x="1169">+ __construct()</tspan><tspan x="1169" dy="14.8">+ getLangKey()</tspan><tspan x="1169" dy="14.8">+ getDefaultLanguage()</tspan><tspan x="1169" dy="14.8">+ getTextDirection()</tspan><tspan x="1169" dy="14.8">+ getContentLanguage()</tspan><tspan x="1169" dy="14.8">+ txtlng()</tspan><tspan x="1169" dy="14.8">+ txt()</tspan><tspan x="1169" dy="14.8">+ exists()</tspan><tspan x="1169" dy="14.8">+ loadLanguageModule()</tspan><tspan x="1169" dy="14.8">+ getInstalledLanguages()</tspan><tspan x="1169" dy="14.8">and 7 more...</tspan><tspan x="1169" dy="14.8">+ _getInstalledLanguages()</tspan><tspan x="1169" dy="14.8">+ _lookupEntry()</tspan><tspan x="1169" dy="14.8">+ lookupId()</tspan><tspan x="1169" dy="14.8">+ getFallbackInstance()</tspan><tspan x="1169" dy="14.8">+ getGlobalInstance()</tspan><tspan x="1169" dy="14.8"># logUsage()</tspan><tspan x="1169" dy="14.8"># isUsageLogEnabled()</tspan></text></g>

<g id="ilCronDeleteInactiveUserReminderMail"><rect class="b" x="2747" y="1477" width="210" height="193"/><text class="c" x="2852" y="1493">ilCronDeleteInactiveUser</text><text class="c" x="2852" y="1507">ReminderMail</text><path class="s" d="M2747 1515h210M2747 1539h210"/><text x="2753" y="1555"><tspan x="2753">+ __construct()</tspan><tspan x="2753" dy="14.5">+ removeEntriesFromTableIf</tspan><tspan x="2753" dy="14.5">LastLoginIsNewer()</tspan><tspan x="2753" dy="14.5">+ sendReminderMailIfNeeded()</tspan><tspan x="2753" dy="14.5">+ flushDataTable()</tspan><tspan x="2753" dy="14.5">+ removeSingleUserFromTable()</tspan><tspan x="2753" dy="14.5">- persistMailSent()</tspan><tspan x="2753" dy="14.5">- sendReminder()</tspan></text></g>

<g id="RSServices"><rect class="b" x="4104" y="1133" width="160" height="195"/><text class="c" x="4184" y="1149">ILIAS\ResourceStorage</text><text class="c" x="4184" y="1163">\Services</text><path class="s" d="M4104 1171h160M4104 1195h160"/><text x="4110" y="1211"><tspan x="4110">+ __construct()</tspan><tspan x="4110" dy="14.5">+ manage()</tspan><tspan x="4110" dy="14.5">+ manageContainer()</tspan><tspan x="4110" dy="14.5">+ consume()</tspan><tspan x="4110" dy="14.5">+ collection()</tspan><tspan x="4110" dy="14.5">+ flavours()</tspan><tspan x="4110" dy="14.5">+ preload()</tspan><tspan x="4110" dy="14.5">+ events()</tspan></text></g>

<g id="ilRbacReview"><rect class="b" x="4602" y="1010" width="220" height="441"/><text class="c" x="4712" y="1026">ilRbacReview</text><path class="s" d="M4602 1034h220M4602 1056h220"/><text x="4608" y="1072"><tspan x="4608">+ __construct()</tspan><tspan x="4608" dy="14.7">+ roleExists()</tspan><tspan x="4608" dy="14.7">+ getParentRoleIds()</tspan><tspan x="4608" dy="14.7">+ getRoleListByObject()</tspan><tspan x="4608" dy="14.7">+ getAssignableRoles()</tspan><tspan x="4608" dy="14.7">+ getAssignableRolesInSubtree()</tspan><tspan x="4608" dy="14.7">+ getAssignableChildRoles()</tspan><tspan x="4608" dy="14.7">+ getNumberOfAssignedUsers()</tspan><tspan x="4608" dy="14.7">+ assignedUsers()</tspan><tspan x="4608" dy="14.7">+ isAssigned()</tspan><tspan x="4608" dy="14.7">and 43 more...</tspan><tspan x="4608" dy="14.7">+ _getOperationIdsByName()</tspan><tspan x="4608" dy="14.7">+ _getOperationIdByName()</tspan><tspan x="4608" dy="14.7">+ lookupCreateOperationIds()</tspan><tspan x="4608" dy="14.7">+ _getOperationList()</tspan><tspan x="4608" dy="14.7">+ _groupOperationsByClass()</tspan><tspan x="4608" dy="14.7">+ _getCustomRBACOperationId()</tspan><tspan x="4608" dy="14.7">+ _isRBACOperation()</tspan><tspan x="4608" dy="14.7"># __getParentRoles()</tspan><tspan x="4608" dy="14.7"># __setTemplateFilter()</tspan><tspan x="4608" dy="14.7"># __setRoleType()</tspan><tspan x="4608" dy="14.7"># __setProtectedStatus()</tspan><tspan x="4608" dy="14.7">- getAssignableRolesGenerator()</tspan><tspan x="4608" dy="14.7">- setRoleTypeAndProtection()</tspan><tspan x="4608" dy="14.7">- buildRoleType()</tspan><tspan x="4608" dy="14.7">- buildProtectionByStringValue()</tspan></text></g>

<g id="ilAppEventHandler"><rect class="b" x="4842" y="1178" width="130" height="105"/><text class="c" x="4907" y="1194">ilAppEventHandler</text><path class="s" d="M4842 1202h130M4842 1224h130"/><text x="4848" y="1240"><tspan x="4848">+ __construct()</tspan><tspan x="4848" dy="14.5">+ raise()</tspan><tspan x="4848" dy="14.5"># initListeners()</tspan></text></g>

<g id="ilTreeImplementation"><rect class="b" x="5000" y="1118" width="180" height="223"/><text class="c" x="5090" y="1134">ilTreeImplementation</text><path class="s" d="M5000 1142h180M5000 1164h180"/><text x="5006" y="1180"><tspan x="5006">+ getSubTreeIds()</tspan><tspan x="5006" dy="14.6">+ getSubTreeQuery()</tspan><tspan x="5006" dy="14.6">+ getTrashSubTreeQuery()</tspan><tspan x="5006" dy="14.6">+ getRelation()</tspan><tspan x="5006" dy="14.6">+ getPathIds()</tspan><tspan x="5006" dy="14.6">+ insertNode()</tspan><tspan x="5006" dy="14.6">+ deleteTree()</tspan><tspan x="5006" dy="14.6">+ moveToTrash()</tspan><tspan x="5006" dy="14.6">+ moveTree()</tspan><tspan x="5006" dy="14.6">+ getSubtreeInfo()</tspan><tspan x="5006" dy="14.6">+ validateParentRelations()</tspan></text></g>

<g id="ilTree"><rect class="b" x="4928" y="1696" width="224" height="384"/><text class="c" x="5040" y="1712">ilTree</text><path class="s" d="M4928 1720h224"/><text x="4934" y="1736"># DEFAULT_GAP</text><path class="s" d="M4928 1743h224"/><text x="4934" y="1759"><tspan x="4934">+ __construct()</tspan><tspan x="4934" dy="14.6">+ initTreeImplementation()</tspan><tspan x="4934" dy="14.6">+ getTreeImplementation()</tspan><tspan x="4934" dy="14.6">+ useCache()</tspan><tspan x="4934" dy="14.6">+ getDepthCache()</tspan><tspan x="4934" dy="14.6">+ getParentCache()</tspan><tspan x="4934" dy="14.6">+ initLangCode()</tspan><tspan x="4934" dy="14.6">+ getTreeTable()</tspan><tspan x="4934" dy="14.6">+ getObjectDataTable()</tspan><tspan x="4934" dy="14.6">+ getTreePk()</tspan><tspan x="4934" dy="14.6">and 60 more...</tspan><tspan x="4934" dy="14.6">+ lookupTreesForNode()</tspan><tspan x="4934" dy="14.6">+ _removeEntry()</tspan><tspan x="4934" dy="14.6"># isCacheUsed()</tspan><tspan x="4934" dy="14.6"># resetInTreeCache()</tspan><tspan x="4934" dy="14.6"># fetchTranslationFromObject</tspan><tspan x="4934" dy="14.6">DataCache()</tspan><tspan x="4934" dy="14.6"># __renumber()</tspan><tspan x="4934" dy="14.6"># __checkDelete()</tspan><tspan x="4934" dy="14.6"># __getSubTreeByParentRelation()</tspan><tspan x="4934" dy="14.6"># __validateSubtrees()</tspan><tspan x="4934" dy="14.6"># isRepositoryTree()</tspan></text></g>

<g id="ilRbacAdmin"><rect class="b" x="5616" y="1761" width="190" height="252"/><text class="c" x="5711" y="1777">ilRbacAdmin</text><path class="s" d="M5616 1785h190M5616 1807h190"/><text x="5622" y="1823"><tspan x="5622">+ __construct()</tspan><tspan x="5622" dy="14.6">+ setBlockedStatus()</tspan><tspan x="5622" dy="14.6">+ removeUser()</tspan><tspan x="5622" dy="14.6">+ deleteRole()</tspan><tspan x="5622" dy="14.6">+ deleteTemplate()</tspan><tspan x="5622" dy="14.6">+ deleteLocalRole()</tspan><tspan x="5622" dy="14.6">+ assignUserLimited()</tspan><tspan x="5622" dy="14.6">+ assignUser()</tspan><tspan x="5622" dy="14.6">+ deassignUser()</tspan><tspan x="5622" dy="14.6">+ grantPermission()</tspan><tspan x="5622" dy="14.6">and 18 more...</tspan><tspan x="5622" dy="14.6"># applyMovedObjectDidactic</tspan><tspan x="5622" dy="14.6">Templates()</tspan></text></g>

<g id="ilOrgUnitPositionAccessHandler"><rect class="b" x="5044" y="2224" width="249" height="251"/><text class="c" x="5168" y="2240">ilOrgUnitPositionAccessHandler</text><path class="s" d="M5044 2248h249M5044 2270h249"/><text x="5050" y="2286"><tspan x="5050">+ filterUserIdsForCurrentUsers</tspan><tspan x="5050" dy="14.4">PositionsAndPermission()</tspan><tspan x="5050" dy="14.4">+ filterUserIdsForUsersPositions</tspan><tspan x="5050" dy="14.4">AndPermission()</tspan><tspan x="5050" dy="14.4">+ isCurrentUserBasedOnPositions</tspan><tspan x="5050" dy="14.4">AllowedTo()</tspan><tspan x="5050" dy="14.4">+ isUserBasedOnPositionsAllowedTo()</tspan><tspan x="5050" dy="14.4">+ checkPositionAccess()</tspan><tspan x="5050" dy="14.4">+ hasCurrentUserAnyPosition</tspan><tspan x="5050" dy="14.4">Access()</tspan><tspan x="5050" dy="14.4">+ filterUserIdsByPositionOf</tspan><tspan x="5050" dy="14.4">CurrentUser()</tspan><tspan x="5050" dy="14.4">+ filterUserIdsByPositionOfUser()</tspan></text></g>

<g id="ilOrgUnitPositionAndRBACAccessHandler"><rect class="b" x="5318" y="2265" width="223" height="167"/><text class="c" x="5429" y="2281">ilOrgUnitPositionAndRBACAccess</text><text class="c" x="5429" y="2295">Handler</text><path class="s" d="M5318 2303h223M5318 2327h223"/><text x="5324" y="2343"><tspan x="5324">+ checkRbacOrPositionPermission</tspan><tspan x="5324" dy="14.5">Access()</tspan><tspan x="5324" dy="14.5">+ filterUserIdsByRbacOrPosition</tspan><tspan x="5324" dy="14.5">OfCurrentUser()</tspan><tspan x="5324" dy="14.5">+ hasUserRBACorAnyPosition</tspan><tspan x="5324" dy="14.5">Access()</tspan></text></g>

<g id="ilRBACAccessHandler"><rect class="b" x="5569" y="2239" width="215" height="221"/><text class="c" x="5676" y="2255">ilRBACAccessHandler</text><path class="s" d="M5569 2263h215M5569 2285h215"/><text x="5575" y="2301"><tspan x="5575">+ storeAccessResult()</tspan><tspan x="5575" dy="14.5">+ getStoredAccessResult()</tspan><tspan x="5575" dy="14.5">+ setPreventCachingLastResult()</tspan><tspan x="5575" dy="14.5">+ getPreventCachingLastResult()</tspan><tspan x="5575" dy="14.5">+ getResults()</tspan><tspan x="5575" dy="14.5">+ setResults()</tspan><tspan x="5575" dy="14.5">+ addInfoItem()</tspan><tspan x="5575" dy="14.5">+ checkAccess()</tspan><tspan x="5575" dy="14.5">+ checkAccessOfUser()</tspan><tspan x="5575" dy="14.5">+ getInfo()</tspan><tspan x="5575" dy="14.5">and 11 more...</tspan></text></g>

<g id="ilFavouritesDBRepository"><rect class="b" x="4225" y="2261" width="190" height="179"/><text class="c" x="4320" y="2277">ilFavouritesDBRepository</text><path class="s" d="M4225 2285h190M4225 2307h190"/><text x="4231" y="2323"><tspan x="4231">+ __construct()</tspan><tspan x="4231" dy="14.5">+ add()</tspan><tspan x="4231" dy="14.5">+ remove()</tspan><tspan x="4231" dy="14.5">+ getFavouritesOfUser()</tspan><tspan x="4231" dy="14.5">+ ifIsFavourite()</tspan><tspan x="4231" dy="14.5">+ removeFavouritesOfRefId()</tspan><tspan x="4231" dy="14.5">+ removeFavouritesOfUser()</tspan></text></g>

<g id="Properties"><rect class="b" x="3727" y="2217" width="250" height="267"/><text class="c" x="3852" y="2233">ILIAS\ILIASObject\Properties</text><text class="c" x="3852" y="2247">\Properties</text><path class="s" d="M3727 2255h250M3727 2279h250"/><text x="3733" y="2295"><tspan x="3733">+ __construct()</tspan><tspan x="3733" dy="14.5">+ storeCoreProperties()</tspan><tspan x="3733" dy="14.5">+ getOwner()</tspan><tspan x="3733" dy="14.5">+ withOwner()</tspan><tspan x="3733" dy="14.5">+ getImportId()</tspan><tspan x="3733" dy="14.5">+ withImportId()</tspan><tspan x="3733" dy="14.5">+ getPropertyTitleAndDescription()</tspan><tspan x="3733" dy="14.5">+ withPropertyTitleAndDescription()</tspan><tspan x="3733" dy="14.5">+ storePropertyTitleAndDescription()</tspan><tspan x="3733" dy="14.5">+ getPropertyIsOnline()</tspan><tspan x="3733" dy="14.5">and 16 more...</tspan><tspan x="3733" dy="14.5">- updateMetadataForTitleAnd</tspan><tspan x="3733" dy="14.5">Description()</tspan></text></g>

<g id="Aggregator"><rect class="b" x="3204" y="2290" width="193" height="119"/><text class="c" x="3300" y="2306">ILIAS\ILIASObject\Properties</text><text class="c" x="3300" y="2320">\Aggregator</text><path class="s" d="M3204 2328h193M3204 2352h193"/><text x="3210" y="2368"><tspan x="3210">+ __construct()</tspan><tspan x="3210" dy="14.5">+ getFor()</tspan><tspan x="3210" dy="14.5">+ preload()</tspan></text></g>

<g id="ilFavouritesManager"><rect class="b" x="3324" y="2790" width="192" height="194"/><text class="c" x="3420" y="2806">ilFavouritesManager</text><path class="s" d="M3324 2814h192M3324 2836h192"/><text x="3330" y="2852"><tspan x="3330">+ __construct()</tspan><tspan x="3330" dy="14.6">+ add()</tspan><tspan x="3330" dy="14.6">+ remove()</tspan><tspan x="3330" dy="14.6">+ ifIsFavourite()</tspan><tspan x="3330" dy="14.6">+ loadData()</tspan><tspan x="3330" dy="14.6">+ isGloballyActivated()</tspan><tspan x="3330" dy="14.6">+ getFavouritesOfUser()</tspan><tspan x="3330" dy="14.6">+ removeFavouritesOfRefId()</tspan><tspan x="3330" dy="14.6">+ removeFavouritesOfUser()</tspan></text></g>

<g id="ilObject"><rect class="b" x="3540" y="2576" width="227" height="620"/><text class="c" x="3653" y="2592">ilObject</text><path class="s" d="M3540 2600h227M3540 2630h227"/><text x="3546" y="2648"><tspan x="3546">+ getObjectProperties()</tspan><tspan x="3546" dy="14.8">+ flushObjectProperties()</tspan><tspan x="3546" dy="14.8">+ withReferences()</tspan><tspan x="3546" dy="14.8">+ processAutoRating()</tspan><tspan x="3546" dy="14.8">+ read()</tspan><tspan x="3546" dy="14.8">+ getId()</tspan><tspan x="3546" dy="14.8">+ setId()</tspan><tspan x="3546" dy="14.8">+ setRefId()</tspan><tspan x="3546" dy="14.8">+ getRefId()</tspan><tspan x="3546" dy="14.8">+ getType()</tspan><tspan x="3546" dy="14.8">and 40 more...</tspan><tspan x="3546" dy="14.8">+ _lookupObjIdByImportId()</tspan><tspan x="3546" dy="14.8">+ _lookupImportId()</tspan><tspan x="3546" dy="14.8">+ _lookupOwnerName()</tspan><tspan x="3546" dy="14.8">+ _getIdForImportId()</tspan><tspan x="3546" dy="14.8">+ _getAllReferences()</tspan><tspan x="3546" dy="14.8">+ _lookupTitle()</tspan><tspan x="3546" dy="14.8">+ lookupOfflineStatus()</tspan><tspan x="3546" dy="14.8">+ _lookupOwner()</tspan><tspan x="3546" dy="14.8">+ _getIdsForTitle()</tspan><tspan x="3546" dy="14.8">+ _lookupDescription()</tspan><tspan x="3546" dy="14.8">and 27 more...</tspan><tspan x="3546" dy="14.8"># doMDUpdateListener()</tspan><tspan x="3546" dy="14.8"># beforeMDUpdateListener()</tspan><tspan x="3546" dy="14.8"># doCreateMetaData()</tspan><tspan x="3546" dy="14.8"># beforeCreateMetaData()</tspan><tspan x="3546" dy="14.8"># doUpdateMetaData()</tspan><tspan x="3546" dy="14.8"># beforeUpdateMetaData()</tspan><tspan x="3546" dy="14.8"># doDeleteMetaData()</tspan><tspan x="3546" dy="14.8"># beforeDeleteMetaData()</tspan><tspan x="3546" dy="14.8"># handleAutoRating()</tspan><tspan x="3546" dy="14.8"># hasAutoRating()</tspan><tspan x="3546" dy="14.8">- appendCopyInfoToTranslations()</tspan><tspan x="3546" dy="14.8">- getCallbackForTitlesPerLanguage</tspan><tspan x="3546" dy="14.8">Transformation()</tspan><tspan x="3546" dy="14.8">- appendNumberOfCopiesToTitle()</tspan><tspan x="3546" dy="14.8">- isTitleUnique()</tspan><tspan x="3546" dy="14.8">- buildTitleWithoutCopySuffix()</tspan></text></g>

<g id="ilObjUser"><rect class="b" x="2522" y="2826" width="201" height="1198"/><text class="c" x="2622" y="2842">ilObjUser</text><path class="s" d="M2522 2850h201"/><text x="2528" y="2866"><tspan x="2528">+ $id</tspan><tspan x="2528" dy="14.7">+ $login</tspan><tspan x="2528" dy="14.7">+ $passwd</tspan><tspan x="2528" dy="14.7">+ $gender</tspan><tspan x="2528" dy="14.7">+ $utitle</tspan><tspan x="2528" dy="14.7">+ $firstname</tspan><tspan x="2528" dy="14.7">+ $lastname</tspan><tspan x="2528" dy="14.7">+ $birthday</tspan><tspan x="2528" dy="14.7">+ $fullname</tspan><tspan x="2528" dy="14.7">+ $department</tspan><tspan x="2528" dy="14.7">+ $street</tspan><tspan x="2528" dy="14.7">+ $city</tspan><tspan x="2528" dy="14.7">+ $country</tspan><tspan x="2528" dy="14.7">+ $phone_home</tspan><tspan x="2528" dy="14.7">+ $phone_mobile</tspan><tspan x="2528" dy="14.7">+ $fax</tspan><tspan x="2528" dy="14.7">+ $second_email</tspan><tspan x="2528" dy="14.7">+ $matriculation</tspan><tspan x="2528" dy="14.7">+ $approve_date</tspan><tspan x="2528" dy="14.7">+ $agree_date</tspan><tspan x="2528" dy="14.7">+ $client_ip</tspan><tspan x="2528" dy="14.7">+ $auth_mode</tspan><tspan x="2528" dy="14.7">+ $time_limit_unlimited</tspan><tspan x="2528" dy="14.7">+ $skin</tspan><tspan x="2528" dy="14.7">+ $latitude</tspan><tspan x="2528" dy="14.7">+ $loc_zoom</tspan><tspan x="2528" dy="14.7">+ $last_profile_prompt</tspan><tspan x="2528" dy="14.7">+ $profile_incomplete</tspan><tspan x="2528" dy="14.7">+ $last_login</tspan><tspan x="2528" dy="14.7">+ $last_update</tspan><tspan x="2528" dy="14.7">+ $create_date</tspan><tspan x="2528" dy="14.7">+ $is_self_registered</tspan><tspan x="2528" dy="14.7">+ $inactivation_date</tspan><tspan x="2528" dy="14.7">+ $password_policy_resetted</tspan><tspan x="2528" dy="14.7">+ $birthday_string</tspan><tspan x="2528" dy="14.7">+ $style</tspan><tspan x="2528" dy="14.7">+ $ilias</tspan><tspan x="2528" dy="14.7">+ $auth_mode_ext</tspan><tspan x="2528" dy="14.7">+ $agreement_date</tspan><tspan x="2528" dy="14.7">+ $user_defined</tspan></text><path class="s" d="M2522 3452h201"/><text x="2528" y="3468"><tspan x="2528">+ __construct()</tspan><tspan x="2528" dy="14.7">+ exists()</tspan><tspan x="2528" dy="14.7">+ read()</tspan><tspan x="2528" dy="14.7">+ getPasswordEncodingType()</tspan><tspan x="2528" dy="14.7">+ setPasswordEncodingType()</tspan><tspan x="2528" dy="14.7">+ getPasswordSalt()</tspan><tspan x="2528" dy="14.7">+ setPasswordSalt()</tspan><tspan x="2528" dy="14.7">+ assignData()</tspan><tspan x="2528" dy="14.7">+ create()</tspan><tspan x="2528" dy="14.7">+ update()</tspan><tspan x="2528" dy="14.7">and 224 more...</tspan><tspan x="2528" dy="14.7">+ _lookupEmail()</tspan><tspan x="2528" dy="14.7">+ _lookupGender()</tspan><tspan x="2528" dy="14.7">+ _lookupClientIP()</tspan><tspan x="2528" dy="14.7">+ _lookupName()</tspan><tspan x="2528" dy="14.7">+ _lookupFields()</tspan><tspan x="2528" dy="14.7">+ _lookupLogin()</tspan><tspan x="2528" dy="14.7">+ _lookupExternalAccount()</tspan><tspan x="2528" dy="14.7">+ _lookupId()</tspan><tspan x="2528" dy="14.7">+ _lookupLastLogin()</tspan><tspan x="2528" dy="14.7">and 62 more...</tspan><tspan x="2528" dy="14.7"># buildTextFromArray()</tspan><tspan x="2528" dy="14.7"># readMultiTextFields()</tspan><tspan x="2528" dy="14.7"># deleteMultiTextFields()</tspan><tspan x="2528" dy="14.7">- _lookup()</tspan><tspan x="2528" dy="14.7">- getLoginFromAuth()</tspan></text></g>

<g id="ilContainer"><rect class="b" x="2811" y="4468" width="215" height="589"/><text class="c" x="2918" y="4484">ilContainer</text><path class="s" d="M2811 4492h215"/><text x="2817" y="4508"><tspan x="2817">+ VIEW_SESSIONS</tspan><tspan x="2817" dy="14.7">+ VIEW_OBJECTIVE</tspan><tspan x="2817" dy="14.7">+ VIEW_TIMING</tspan><tspan x="2817" dy="14.7">+ VIEW_ARCHIVE</tspan><tspan x="2817" dy="14.7">+ VIEW_BY_TYPE</tspan><tspan x="2817" dy="14.7">+ VIEW_INHERIT</tspan><tspan x="2817" dy="14.7">+ SORT_TITLE</tspan><tspan x="2817" dy="14.7">+ SORT_ACTIVATION</tspan><tspan x="2817" dy="14.7">+ SORT_DIRECTION_ASC</tspan><tspan x="2817" dy="14.7">+ SORT_DIRECTION_DESC</tspan><tspan x="2817" dy="14.7">+ SORT_NEW_ITEMS_ORDER</tspan><tspan x="2817" dy="14.7">_TITLE</tspan><tspan x="2817" dy="14.7">+ TILE_SMALL</tspan><tspan x="2817" dy="14.7">+ TILE_LARGE</tspan><tspan x="2817" dy="14.7">+ TILE_EXTRA_LARGE</tspan><tspan x="2817" dy="14.7">+ TILE_FULL</tspan></text><path class="s" d="M2811 4739h215"/><text x="2817" y="4755"><tspan x="2817">+ getTileSizes()</tspan><tspan x="2817" dy="14.7">+ getObjectTranslation()</tspan><tspan x="2817" dy="14.7">+ setObjectTranslation()</tspan><tspan x="2817" dy="14.7">+ createContainerDirectory()</tspan><tspan x="2817" dy="14.7">+ getContainerDirectory()</tspan><tspan x="2817" dy="14.7">+ setHiddenFilesFound()</tspan><tspan x="2817" dy="14.7">+ getHiddenFilesFound()</tspan><tspan x="2817" dy="14.7">+ getStyleSheetId()</tspan><tspan x="2817" dy="14.7">+ setStyleSheetId()</tspan><tspan x="2817" dy="14.7">+ setNewsTimeline()</tspan><tspan x="2817" dy="14.7">and 32 more...</tspan><tspan x="2817" dy="14.7">+ _getContainerDirectory()</tspan><tspan x="2817" dy="14.7">+ _lookupContainerSetting()</tspan><tspan x="2817" dy="14.7">+ _hasContainerSetting()</tspan><tspan x="2817" dy="14.7">+ _writeContainerSetting()</tspan><tspan x="2817" dy="14.7">+ _getContainerSettings()</tspan><tspan x="2817" dy="14.7">+ _deleteContainerSettings()</tspan><tspan x="2817" dy="14.7">+ _exportContainerSettings()</tspan><tspan x="2817" dy="14.7">+ getCompleteDescriptions()</tspan><tspan x="2817" dy="14.7"># getInitialSubitems()</tspan><tspan x="2817" dy="14.7"># applyContainerUserFilter()</tspan></text></g>

<g id="ilRecommendedContentManager"><rect class="b" x="4815" y="3531" width="242" height="222"/><text class="c" x="4936" y="3547">ilRecommendedContentManager</text><path class="s" d="M4815 3555h242M4815 3577h242"/><text x="4821" y="3593"><tspan x="4821">+ __construct()</tspan><tspan x="4821" dy="14.5">+ addRoleRecommendation()</tspan><tspan x="4821" dy="14.5">+ removeRoleRecommendation()</tspan><tspan x="4821" dy="14.5">+ getRecommendationsOfRole()</tspan><tspan x="4821" dy="14.5">+ addObjectRecommendation()</tspan><tspan x="4821" dy="14.5">+ removeObjectRecommendation()</tspan><tspan x="4821" dy="14.5">+ removeRecommendationsOfRefId()</tspan><tspan x="4821" dy="14.5">+ removeRecommendationsOfUser()</tspan><tspan x="4821" dy="14.5">+ removeRecommendationsOfRole()</tspan><tspan x="4821" dy="14.5">+ getOpenRecommendationsOfUser()</tspan><tspan x="4821" dy="14.5">+ declineObjectRecommendation()</tspan></text></g>

<g id="GlobalHttpState"><rect class="b" x="5571" y="3545" width="192" height="194"/><text class="c" x="5667" y="3561">ILIAS\HTTP\GlobalHttpState</text><path class="s" d="M5571 3569h192M5571 3591h192"/><text x="5577" y="3607"><tspan x="5577">+ durations()</tspan><tspan x="5577" dy="14.5">+ wrapper()</tspan><tspan x="5577" dy="14.5">+ request()</tspan><tspan x="5577" dy="14.5">+ response()</tspan><tspan x="5577" dy="14.5">+ cookieJar()</tspan><tspan x="5577" dy="14.5">+ saveRequest()</tspan><tspan x="5577" dy="14.5">+ saveResponse()</tspan><tspan x="5577" dy="14.5">+ sendResponse()</tspan><tspan x="5577" dy="14.5">+ close()</tspan></text></g>

<g id="ilRbacSystem"><rect class="b" x="5645" y="4165" width="176" height="237"/><text class="c" x="5733" y="4181">ilRbacSystem</text><path class="s" d="M5645 4189h176M5645 4211h176"/><text x="5651" y="4227"><tspan x="5651">+ checkAccess()</tspan><tspan x="5651" dy="14.5">+ checkAccessOfUser()</tspan><tspan x="5651" dy="14.5">+ preloadRbacPaCache()</tspan><tspan x="5651" dy="14.5">+ checkPermission()</tspan><tspan x="5651" dy="14.5">+ initMemberView()</tspan><tspan x="5651" dy="14.5">+ addTemporaryRole()</tspan><tspan x="5651" dy="14.5">+ resetPACache()</tspan><tspan x="5651" dy="14.5">+ getInstance()</tspan><tspan x="5651" dy="14.5">+ resetCaches()</tspan><tspan x="5651" dy="14.5"># __construct()</tspan><tspan x="5651" dy="14.5"># filterOwnerPermissions()</tspan><tspan x="5651" dy="14.5">- fetchAssignedRoles()</tspan></text></g>

<g id="ilObjCategory"><rect class="b" x="5646" y="5106" width="225" height="118"/><text class="c" x="5758" y="5122">ilObjCategory</text><path class="s" d="M5646 5128h225M5646 5151h225"/><text x="5652" y="5166"><tspan x="5652">+ __construct()</tspan><tspan x="5652" dy="13.8">+ delete()</tspan><tspan x="5652" dy="13.8">+ cloneObject()</tspan><tspan x="5652" dy="13.8">+ cloneDependencies()</tspan><tspan x="5652" dy="13.8">+ addAdditionalSubItemInformation()</tspan></text></g>

<g id="ilCategoryImportParser"><rect class="f" x="5677" y="5281" width="162" height="118"/><text class="c" x="5758" y="5297">ilCategoryImportParser</text><path class="s" d="M5677 5303h162M5677 5326h162"/><text x="5683" y="5341"><tspan x="5683">+ setHandlers()</tspan><tspan x="5683" dy="13.8">+ buildTag()</tspan><tspan x="5683" dy="13.8">+ handlerBeginTag()</tspan><tspan x="5683" dy="13.8">+ handlerEndTag()</tspan><tspan x="5683" dy="13.8">+ handlerCharacterData()</tspan></text></g>

<g id="ilSaxController"><rect class="b" x="670" y="2920" width="240" height="530"/><text class="c" x="790" y="2936">ilSaxController</text><path class="s" d="M670 2944h240M670 2966h240"/><text x="676" y="2982"><tspan x="676">+ setHandlers()</tspan><tspan x="676" dy="14.5">+ setDefaultElementHandler()</tspan><tspan x="676" dy="14.5">+ setElementHandler()</tspan><tspan x="676" dy="14.5">+ setDefaultDataHandler()</tspan><tspan x="676" dy="14.5">+ setDataHandler()</tspan><tspan x="676" dy="14.5">+ handlerBeginTag()</tspan><tspan x="676" dy="14.5">+ handlerEndTag()</tspan><tspan x="676" dy="14.5">+ handlerCharacterData()</tspan></text></g>

<g id="ilSaxParser"><rect class="b" x="480" y="4050" width="310" height="170"/><text class="c" x="635" y="4066">ilSaxParser</text><path class="s" d="M480 4074h310M480 4096h310"/><text x="486" y="4112"><tspan x="486">+ __construct()</tspan><tspan x="486" dy="14.5">+ startParsing()</tspan><tspan x="486" dy="14.5">+ setXMLContent()</tspan><tspan x="486" dy="14.5">+ getXMLContent()</tspan><tspan x="486" dy="14.5">+ getInputType()</tspan><tspan x="486" dy="14.5">+ openXMLFile()</tspan><tspan x="486" dy="14.5">+ parse()</tspan></text></g>
</svg>
